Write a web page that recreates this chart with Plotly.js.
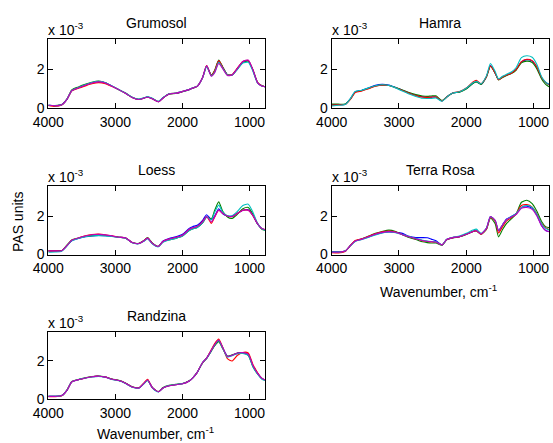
<!DOCTYPE html>
<html>
<head>
<meta charset="utf-8">
<script src="https://cdn.plot.ly/plotly-3.0.1.min.js"></script>
<style>html,body{margin:0;padding:0;background:#fff;}#chart{width:553px;height:443px;}</style>
</head>
<body>
<div id="chart"></div>
<script>
// Wavenumber grid (cm^-1) shared by all spectra
const wavenumber = [4000,3900,3800,3720,3650,3550,3450,3350,3250,3150,3050,2950,2850,2750,2650,2580,2520,2450,2360,2290,2200,2100,2000,1900,1850,1780,1700,1640,1570,1520,1460,1400,1330,1260,1180,1100,1020,950,880,820,770];

// PAS signal, in units of 1e-3
const grumosolBlue    = [0.14,0.12,0.17,0.46,0.9,1.05,1.18,1.3,1.37,1.3,1.13,0.95,0.76,0.54,0.44,0.5,0.57,0.48,0.32,0.52,0.72,0.76,0.85,0.95,1.03,1.12,1.58,2.18,1.68,1.9,2.42,2.1,1.72,1.72,2.05,2.38,2.44,1.95,1.3,1.15,1.1];
const grumosolGreen   = [0.14,0.13,0.18,0.47,0.93,1.09,1.22,1.33,1.39,1.31,1.13,0.94,0.77,0.55,0.45,0.51,0.58,0.49,0.33,0.53,0.73,0.75,0.84,0.95,1.02,1.12,1.57,2.16,1.7,1.95,2.48,2.12,1.72,1.7,2.02,2.35,2.42,1.96,1.32,1.16,1.1];
const grumosolRed     = [0.13,0.08,0.15,0.45,0.88,1.02,1.14,1.25,1.31,1.26,1.11,0.95,0.76,0.54,0.44,0.5,0.57,0.48,0.32,0.52,0.72,0.77,0.86,0.96,1.03,1.13,1.58,2.19,1.67,1.92,2.45,2.1,1.71,1.73,2.07,2.4,2.46,1.97,1.31,1.15,1.1];
const grumosolCyan    = [0.14,0.12,0.17,0.46,0.9,1.06,1.2,1.32,1.38,1.31,1.14,0.96,0.77,0.56,0.46,0.52,0.59,0.5,0.34,0.54,0.74,0.77,0.86,0.96,1.04,1.13,1.56,2.14,1.66,1.85,2.36,2.06,1.7,1.7,2.0,2.32,2.36,1.9,1.28,1.14,1.1];
const grumosolMagenta = [0.14,0.12,0.17,0.46,0.9,1.05,1.18,1.29,1.35,1.29,1.12,0.95,0.76,0.54,0.44,0.5,0.57,0.48,0.32,0.52,0.72,0.76,0.85,0.95,1.03,1.12,1.58,2.18,1.64,1.82,2.3,2.03,1.68,1.7,2.05,2.4,2.48,1.98,1.3,1.14,1.1];

const hamraBlue  = [0.17,0.18,0.19,0.48,0.84,0.92,1.04,1.17,1.22,1.18,1.06,0.92,0.78,0.66,0.58,0.56,0.56,0.57,0.37,0.57,0.77,0.83,1.0,1.28,1.36,1.23,1.62,2.2,1.8,1.47,1.6,1.7,1.8,1.98,2.38,2.5,2.42,2.1,1.56,1.32,1.22];
const hamraGreen = [0.2,0.2,0.2,0.47,0.82,0.9,1.02,1.14,1.18,1.16,1.06,0.93,0.8,0.69,0.62,0.6,0.62,0.63,0.38,0.57,0.77,0.82,0.98,1.27,1.34,1.22,1.6,2.16,1.8,1.45,1.58,1.68,1.78,1.95,2.33,2.42,2.35,2.02,1.5,1.22,1.1];
const hamraRed   = [0.15,0.16,0.18,0.46,0.8,0.88,1.0,1.12,1.18,1.16,1.05,0.9,0.76,0.64,0.56,0.55,0.56,0.57,0.36,0.57,0.78,0.85,1.03,1.35,1.43,1.26,1.62,2.17,1.8,1.46,1.6,1.7,1.8,1.98,2.4,2.52,2.45,2.12,1.58,1.32,1.2];
const hamraCyan  = [0.1,0.14,0.18,0.5,0.86,0.92,1.04,1.15,1.2,1.17,1.04,0.88,0.72,0.6,0.5,0.49,0.49,0.52,0.35,0.56,0.77,0.84,1.02,1.3,1.38,1.25,1.66,2.3,1.88,1.5,1.64,1.74,1.86,2.08,2.6,2.7,2.62,2.25,1.62,1.34,1.22];

const loessBlue    = [0.19,0.19,0.2,0.46,0.72,0.84,0.92,0.97,0.99,0.98,0.95,0.9,0.86,0.62,0.57,0.7,0.84,0.58,0.42,0.7,0.83,0.92,1.05,1.36,1.45,1.52,1.78,2.07,1.82,2.0,2.38,2.12,2.0,2.0,2.15,2.3,2.33,2.03,1.58,1.35,1.28];
const loessGreen   = [0.19,0.19,0.2,0.5,0.76,0.86,0.94,0.98,1.0,0.99,0.95,0.9,0.86,0.63,0.58,0.72,0.88,0.6,0.42,0.66,0.76,0.84,0.96,1.25,1.33,1.4,1.64,1.94,1.85,2.3,2.74,2.25,1.95,1.88,2.1,2.38,2.45,2.1,1.6,1.33,1.26];
const loessRed     = [0.19,0.19,0.2,0.47,0.74,0.86,0.97,1.04,1.06,1.03,0.97,0.9,0.87,0.62,0.57,0.7,0.85,0.58,0.42,0.68,0.8,0.88,1.0,1.3,1.38,1.45,1.72,1.98,1.62,1.95,2.3,2.15,2.0,1.98,2.15,2.3,2.3,2.02,1.6,1.35,1.3];
const loessCyan    = [0.12,0.13,0.17,0.45,0.72,0.84,0.93,0.97,0.98,0.97,0.94,0.89,0.86,0.61,0.56,0.68,0.82,0.56,0.4,0.64,0.76,0.84,0.96,1.25,1.33,1.4,1.66,1.96,1.8,2.2,2.57,2.2,2.02,2.02,2.25,2.55,2.62,2.2,1.62,1.35,1.26];
const loessMagenta = [0.19,0.19,0.2,0.47,0.74,0.86,0.96,1.03,1.05,1.02,0.97,0.9,0.87,0.62,0.57,0.7,0.85,0.58,0.42,0.68,0.8,0.88,1.0,1.3,1.38,1.45,1.7,1.97,1.7,1.96,2.3,2.14,2.0,1.98,2.14,2.3,2.3,2.03,1.6,1.36,1.3];

const terraBlue    = [0.14,0.14,0.18,0.47,0.7,0.8,0.92,1.04,1.13,1.17,1.15,1.1,0.95,0.88,0.88,0.87,0.8,0.72,0.5,0.78,0.88,0.93,1.05,1.2,1.24,1.07,1.36,1.97,1.75,1.22,1.55,1.85,1.98,2.12,2.45,2.52,2.4,2.05,1.5,1.25,1.2];
const terraGreen   = [0.12,0.12,0.18,0.47,0.71,0.82,0.96,1.1,1.2,1.27,1.2,1.03,0.88,0.78,0.66,0.62,0.6,0.6,0.48,0.76,0.86,0.92,1.04,1.2,1.24,1.06,1.3,1.9,1.6,0.92,1.3,1.62,1.85,2.1,2.72,2.82,2.65,2.25,1.72,1.45,1.4];
const terraRed     = [0.1,0.08,0.16,0.48,0.73,0.82,0.95,1.08,1.18,1.22,1.17,1.04,0.92,0.82,0.72,0.68,0.66,0.65,0.5,0.78,0.88,0.93,1.05,1.2,1.24,1.06,1.33,1.93,1.72,1.12,1.45,1.75,1.92,2.12,2.55,2.6,2.47,2.12,1.62,1.4,1.3];
const terraCyan    = [0.12,0.12,0.18,0.46,0.68,0.78,0.9,1.02,1.12,1.17,1.14,1.04,0.93,0.84,0.74,0.7,0.68,0.66,0.5,0.79,0.9,0.96,1.1,1.27,1.32,1.1,1.37,1.97,1.77,1.25,1.55,1.82,1.97,2.13,2.45,2.55,2.45,2.1,1.6,1.36,1.27];
const terraMagenta = [0.12,0.12,0.18,0.47,0.7,0.8,0.93,1.06,1.15,1.19,1.16,1.03,0.92,0.82,0.73,0.69,0.67,0.65,0.5,0.78,0.88,0.93,1.05,1.2,1.25,1.07,1.36,1.98,1.78,1.25,1.55,1.82,1.95,2.08,2.4,2.45,2.35,2.0,1.5,1.25,1.18];

const randzinaBlue    = [0.14,0.14,0.18,0.47,0.9,1.02,1.1,1.17,1.2,1.15,1.04,0.97,0.83,0.63,0.58,0.8,1.0,0.6,0.38,0.58,0.7,0.75,0.8,0.95,1.1,1.4,1.92,2.15,2.55,2.85,3.08,2.7,2.25,2.3,2.42,2.44,2.35,1.75,1.35,1.1,1.0];
const randzinaGreen   = [0.14,0.14,0.18,0.48,0.92,1.03,1.11,1.18,1.21,1.16,1.05,0.98,0.84,0.64,0.59,0.8,0.98,0.61,0.39,0.6,0.72,0.77,0.82,0.96,1.1,1.4,1.9,2.14,2.52,2.8,3.02,2.65,2.25,2.32,2.42,2.42,2.3,1.7,1.32,1.08,0.98];
const randzinaRed     = [0.12,0.12,0.17,0.46,0.9,1.02,1.1,1.17,1.2,1.15,1.04,0.97,0.83,0.63,0.58,0.82,1.04,0.6,0.38,0.58,0.7,0.75,0.8,0.95,1.1,1.4,1.92,2.15,2.6,2.92,3.15,2.72,2.12,2.0,2.3,2.45,2.42,1.82,1.38,1.1,1.0];
const randzinaCyan    = [0.14,0.14,0.18,0.47,0.9,1.02,1.1,1.16,1.19,1.14,1.03,0.96,0.82,0.62,0.57,0.78,0.97,0.59,0.37,0.58,0.71,0.76,0.81,0.95,1.1,1.4,1.92,2.14,2.54,2.84,3.06,2.68,2.2,2.28,2.38,2.4,2.3,1.7,1.3,1.05,0.97];
const randzinaMagenta = [0.14,0.14,0.18,0.47,0.9,1.02,1.1,1.17,1.2,1.15,1.04,0.97,0.83,0.63,0.58,0.8,1.0,0.6,0.38,0.58,0.7,0.75,0.8,0.95,1.1,1.4,1.92,2.15,2.56,2.86,3.1,2.7,2.24,2.3,2.42,2.44,2.36,1.76,1.35,1.1,1.0];

const panelNames = ["Grumosol","Hamra","Loess","Terra Rosa","Randzina"];
const tickValsX = [4000,3000,2000,1000];
const tickTextX = ["4000","3000","2000","1000"];
const tickValsY = [0,2];
const tickTextY = ["0","2"];

const colorBlue = "#0000ff", colorGreen = "#008000", colorRed = "#ff0000", colorCyan = "#00bfbf", colorMagenta = "#bf00bf";

const panels = [
  [[grumosolBlue,colorBlue],[grumosolGreen,colorGreen],[grumosolRed,colorRed],[grumosolCyan,colorCyan],[grumosolMagenta,colorMagenta]],
  [[hamraBlue,colorBlue],[hamraGreen,colorGreen],[hamraRed,colorRed],[hamraCyan,colorCyan]],
  [[loessBlue,colorBlue],[loessGreen,colorGreen],[loessRed,colorRed],[loessCyan,colorCyan],[loessMagenta,colorMagenta]],
  [[terraBlue,colorBlue],[terraGreen,colorGreen],[terraRed,colorRed],[terraCyan,colorCyan],[terraMagenta,colorMagenta]],
  [[randzinaBlue,colorBlue],[randzinaGreen,colorGreen],[randzinaRed,colorRed],[randzinaCyan,colorCyan],[randzinaMagenta,colorMagenta]]
];

const W = 553, H = 443;
const px = v => v / W;
const py = v => 1 - v / H;

// plot-box pixel extents [left, right, top, bottom]
const boxes = [
  [48.3, 265, 39.3, 108],
  [331.7, 549, 39.3, 108],
  [48.3, 265, 186.3, 254.5],
  [331.7, 549, 186.3, 254.5],
  [48.3, 265, 331.5, 399]
];

const font = "Liberation Sans, Arial, Helvetica, sans-serif";
const traces = [];
const layout = {
  width: W, height: H, autosize: false,
  margin: {l:0, r:0, t:0, b:0},
  paper_bgcolor: "#ffffff", plot_bgcolor: "#ffffff",
  showlegend: false,
  font: {family: font, size: 14, color: "#000"},
  annotations: []
};

panels.forEach((series, i) => {
  const n = i === 0 ? "" : String(i + 1);
  series.forEach(([vals, col]) => {
    traces.push({
      type: "scatter", mode: "lines",
      x: wavenumber, y: vals,
      xaxis: "x" + n, yaxis: "y" + n,
      line: {color: col, width: 1.1, shape: "spline", smoothing: 0.6},
      hoverinfo: "skip"
    });
  });
  const b = boxes[i];
  layout["xaxis" + n] = {
    domain: [px(b[0]), px(b[1])], anchor: "y" + n,
    range: [4000, 770], tickmode: "array", tickvals: tickValsX, ticktext: tickTextX,
    ticks: "inside", ticklen: 5, tickwidth: 1, tickcolor: "#000",
    showline: true, linecolor: "#000", linewidth: 1, mirror: "ticks",
    showgrid: false, zeroline: false, ticklabelstandoff: 1,
    tickfont: {family: font, size: 14, color: "#000"}
  };
  layout["yaxis" + n] = {
    domain: [py(b[3]), py(b[2])], anchor: "x" + n,
    range: [0, 3.55], tickmode: "array", tickvals: tickValsY, ticktext: tickTextY,
    ticks: "inside", ticklen: 5, tickwidth: 1, tickcolor: "#000",
    showline: true, linecolor: "#000", linewidth: 1, mirror: "ticks",
    showgrid: false, zeroline: false,
    tickfont: {family: font, size: 14, color: "#000"}
  };
  layout.annotations.push({
    text: panelNames[i], xref: "paper", yref: "paper",
    x: px((b[0] + b[1]) / 2), y: py(b[2] - 16), xanchor: "center", yanchor: "middle",
    showarrow: false, font: {family: font, size: 14, color: "#000"}
  });
  layout.annotations.push({
    text: "x 10<sup>-3</sup>", xref: "paper", yref: "paper",
    x: px(b[0] - 2), y: py(b[2] + 1), xanchor: "left", yanchor: "bottom",
    showarrow: false, font: {family: font, size: 14, color: "#000"}
  });
});

layout.annotations.push({
  text: "PAS units", xref: "paper", yref: "paper",
  x: px(18), y: py(222), xanchor: "center", yanchor: "middle", textangle: -90,
  showarrow: false, font: {family: font, size: 14, color: "#000"}
});
layout.annotations.push({
  text: "Wavenumber, cm<sup>-1</sup>", xref: "paper", yref: "paper",
  x: px(438), y: py(291), xanchor: "center", yanchor: "middle",
  showarrow: false, font: {family: font, size: 14, color: "#000"}
});
layout.annotations.push({
  text: "Wavenumber, cm<sup>-1</sup>", xref: "paper", yref: "paper",
  x: px(155), y: py(433), xanchor: "center", yanchor: "middle",
  showarrow: false, font: {family: font, size: 14, color: "#000"}
});

Plotly.newPlot("chart", traces, layout, {staticPlot: true, displayModeBar: false});
</script>
</body>
</html>
